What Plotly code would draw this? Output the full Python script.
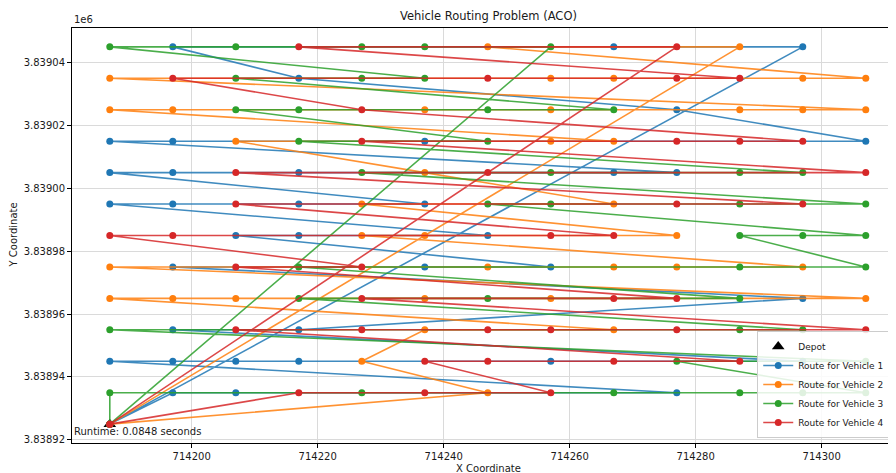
import plotly.graph_objects as go

# ---------------- data ----------------
depot_x = [714187]
depot_y = [3838925]

v1_x = [714187, 714297, 714267, 714197, 714217, 714277, 714307, 714237, 714197, 714187,
        714277, 714267, 714217, 714197, 714187, 714237, 714217, 714197, 714187, 714247,
        714217, 714207, 714257, 714237, 714197, 714297, 714217, 714197, 714297, 714257,
        714217, 714207, 714197, 714187, 714277, 714207, 714197, 714187]
v1_y = [3838925, 3839045, 3839045, 3839045, 3839035, 3839025, 3839015, 3839015, 3839015, 3839015,
        3839005, 3839005, 3839005, 3839005, 3839005, 3838995, 3838995, 3838995, 3838995, 3838985,
        3838985, 3838985, 3838975, 3838975, 3838975, 3838965, 3838955, 3838955, 3838945, 3838945,
        3838945, 3838945, 3838945, 3838945, 3838935, 3838935, 3838935, 3838925]

v2_x = [714187, 714287, 714247, 714307, 714297, 714267, 714257, 714187, 714307, 714297,
        714287, 714257, 714237, 714197, 714187, 714267, 714257, 714207, 714237, 714267,
        714227, 714277, 714237, 714227, 714297, 714277, 714267, 714247, 714187, 714307,
        714257, 714237, 714207, 714197, 714187, 714267, 714237, 714227, 714247, 714187]
v2_y = [3838925, 3839045, 3839045, 3839035, 3839035, 3839035, 3839035, 3839035, 3839025, 3839025,
        3839025, 3839025, 3839025, 3839025, 3839025, 3839015, 3839015, 3839015, 3839005, 3838995,
        3838995, 3838985, 3838985, 3838985, 3838975, 3838975, 3838975, 3838975, 3838975, 3838965,
        3838965, 3838965, 3838965, 3838965, 3838965, 3838955, 3838955, 3838945, 3838935, 3838925]

v3_x = [714187, 714257, 714237, 714227, 714207, 714187, 714237, 714227, 714207, 714267,
        714247, 714217, 714207, 714247, 714217, 714297, 714287, 714257, 714227, 714307,
        714287, 714257, 714247, 714307, 714297, 714287, 714307, 714287, 714217, 714287,
        714247, 714217, 714297, 714287, 714187, 714307, 714277, 714307, 714297, 714287,
        714267, 714227, 714187, 714187]
v3_y = [3838925, 3839045, 3839045, 3839045, 3839045, 3839045, 3839035, 3839035, 3839035, 3839025,
        3839025, 3839025, 3839025, 3839015, 3839015, 3839005, 3839005, 3839005, 3839005, 3838995,
        3838995, 3838995, 3838995, 3838985, 3838985, 3838985, 3838975, 3838975, 3838975, 3838965,
        3838965, 3838965, 3838955, 3838955, 3838955, 3838945, 3838945, 3838935, 3838935, 3838935,
        3838935, 3838935, 3838935, 3838925]

v4_x = [714187, 714277, 714217, 714287, 714277, 714247, 714197, 714227, 714297, 714287,
        714277, 714227, 714307, 714247, 714207, 714297, 714277, 714207, 714267, 714257,
        714197, 714187, 714227, 714207, 714277, 714267, 714227, 714307, 714277, 714257,
        714247, 714227, 714207, 714287, 714267, 714247, 714237, 714257, 714237, 714217,
        714187]
v4_y = [3838925, 3839045, 3839045, 3839035, 3839035, 3839035, 3839035, 3839025, 3839015, 3839015,
        3839015, 3839015, 3839005, 3839005, 3839005, 3838995, 3838995, 3838995, 3838985, 3838985,
        3838985, 3838985, 3838975, 3838975, 3838965, 3838965, 3838965, 3838955, 3838955, 3838955,
        3838955, 3838955, 3838955, 3838945, 3838945, 3838945, 3838945, 3838935, 3838935, 3838935,
        3838925]

route_names = ["Route for Vehicle 1", "Route for Vehicle 2", "Route for Vehicle 3", "Route for Vehicle 4"]
route_colors = ["#1f77b4", "#ff7f0e", "#2ca02c", "#d62728"]
line_colors = ["rgba(31,119,180,0.85)", "rgba(255,127,14,0.85)", "rgba(44,160,44,0.85)", "rgba(214,39,40,0.85)"]

x_tickvals = [714200, 714220, 714240, 714260, 714280, 714300]
x_ticktext = ["714200", "714220", "714240", "714260", "714280", "714300"]
y_tickvals = [3838920, 3838940, 3838960, 3838980, 3839000, 3839020, 3839040]
y_ticktext = ["3.83892", "3.83894", "3.83896", "3.83898", "3.83900", "3.83902", "3.83904"]

title_text = "Vehicle Routing Problem (ACO)"
runtime_text = "Runtime: 0.0848 seconds"

# ---------------- figure ----------------
FONT = "DejaVu Sans"
fig = go.Figure()

fig.add_trace(go.Scatter(
    x=depot_x, y=depot_y, mode="markers", name="Depot",
    marker=dict(symbol="triangle-up", size=11, color="black"),
))

for xs, ys, nm, mc, lc in zip([v1_x, v2_x, v3_x, v4_x], [v1_y, v2_y, v3_y, v4_y],
                              route_names, route_colors, line_colors):
    fig.add_trace(go.Scatter(
        x=xs, y=ys, mode="lines+markers", name=nm,
        line=dict(color=lc, width=1.6),
        marker=dict(color=mc, size=7),
    ))

axis_common = dict(
    showgrid=True, gridcolor="#dadada", gridwidth=1,
    zeroline=False, showline=True, linecolor="black", linewidth=1,
    ticks="outside", ticklen=4, tickcolor="black", tickwidth=1,
    tickfont=dict(family=FONT, size=10, color="#1a1a1a"),
)

# the page body adds an 8px margin, so the figure is 8px smaller than the window
fig.update_layout(
    width=888, height=465,
    margin=dict(l=64, r=0, t=20, b=30),
    paper_bgcolor="white", plot_bgcolor="white",
    font=dict(family=FONT, size=10, color="#1a1a1a"),
    xaxis=dict(range=[714181, 714311.8], tickvals=x_tickvals, ticktext=x_ticktext,
               mirror=True, **axis_common),
    yaxis=dict(range=[3838919, 3839051], tickvals=y_tickvals, ticktext=y_ticktext,
               mirror=False, **axis_common),
    showlegend=True,
    legend=dict(x=0.993, y=0.012, xanchor="right", yanchor="bottom",
                bgcolor="rgba(255,255,255,0.85)", bordercolor="#cccccc", borderwidth=1,
                font=dict(family=FONT, size=9, color="#1a1a1a"), tracegroupgap=0,
                itemwidth=30),
    annotations=[
        dict(text=title_text, xref="paper", yref="paper", x=0.505, y=1, yanchor="bottom",
             yshift=3, showarrow=False, font=dict(family=FONT, size=11.5, color="#1a1a1a")),
        dict(text="1e6", xref="paper", yref="paper", x=0, y=1, xanchor="left", yanchor="bottom",
             yshift=1, showarrow=False, font=dict(family=FONT, size=10, color="#1a1a1a")),
        dict(text="X Coordinate", xref="paper", yref="paper", x=0.505, y=0, yanchor="top",
             yshift=-18, showarrow=False, font=dict(family=FONT, size=10, color="#1a1a1a")),
        dict(text="Y Coordinate", xref="paper", yref="paper", x=0, y=0.5, xanchor="center",
             xshift=-59, textangle=-90, showarrow=False,
             font=dict(family=FONT, size=10, color="#1a1a1a")),
        dict(text=runtime_text, xref="paper", yref="paper", x=0, y=0.027, xanchor="left",
             yanchor="middle", showarrow=False, font=dict(family=FONT, size=10, color="#1a1a1a")),
    ],
)

fig.write_html("out.html")
